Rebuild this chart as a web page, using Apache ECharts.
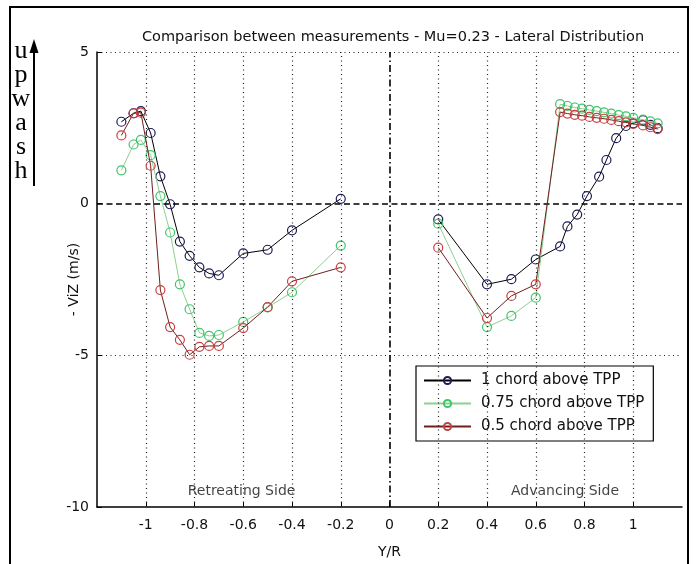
<!DOCTYPE html>
<html><head><meta charset="utf-8">
<script src="https://cdn.jsdelivr.net/npm/echarts@6/dist/echarts.min.js"></script>
<style>html,body{margin:0;padding:0;background:#fff}#c{width:696px;height:564px}</style>
</head><body><div id="c"></div>
<script>
// ---- data ----
const xTicks = [-1,-0.8,-0.6,-0.4,-0.2,0,0.2,0.4,0.6,0.8,1];
const yTicks = [-10,-5,0,5];
const seriesNames = ['1 chord above TPP','0.75 chord above TPP','0.5 chord above TPP'];

const retreatX = [-1.1,-1.05,-1.02,-0.98,-0.94,-0.9,-0.86,-0.82,-0.78,-0.74,-0.7,-0.6,-0.5,-0.4,-0.2];
const chord1Ret   = [2.7,2.98,3.05,2.33,0.9,-0.02,-1.25,-1.72,-2.1,-2.3,-2.36,-1.64,-1.52,-0.88,0.16];
const chord075Ret = [1.1,1.95,2.1,1.6,0.25,-0.95,-2.66,-3.48,-4.26,-4.36,-4.33,-3.9,-3.42,-2.92,-1.38];
const chord05Ret  = [2.25,2.98,3.0,1.25,-2.85,-4.07,-4.49,-4.98,-4.72,-4.69,-4.69,-4.1,-3.41,-2.56,-2.1];

const advX1 = [0.2,0.4,0.5,0.6,0.7,0.73,0.77,0.81,0.86,0.89,0.93,0.97,1.0,1.04,1.07,1.1];
const chord1Adv = [-0.52,-2.66,-2.49,-1.84,-1.41,-0.75,-0.36,0.25,0.89,1.44,2.16,2.56,2.65,2.75,2.6,2.49];

const advX2 = [0.2,0.4,0.5,0.6,0.7,0.73,0.76,0.79,0.82,0.85,0.88,0.91,0.94,0.97,1.0,1.04,1.07,1.1];
const chord075Adv = [-0.66,-4.07,-3.7,-3.1,3.28,3.22,3.17,3.13,3.09,3.05,3.01,2.97,2.92,2.88,2.83,2.77,2.71,2.65];
const chord05Adv  = [-1.45,-3.77,-3.04,-2.66,3.02,2.97,2.93,2.9,2.86,2.83,2.8,2.76,2.72,2.68,2.63,2.58,2.52,2.46];

const annotX = [-0.607, 0.72];
const annotY = [-9.5, -9.5];
const annotText = ['Retreating Side','Advancing Side'];

// ---- styles ----
const FONT = 'DejaVu Sans';
const lineColors = ['#000000','#8ed08e','#6e1f1f'];
const markerColors = ['#1c1c5a','#3fc46a','#c94040'];

const zip = (xs, ys) => xs.map((x,i)=>[x, ys[i]]);
function mkSeries(idx, xs, ys){
  return {
    name: seriesNames[idx], type:'line', data: zip(xs, ys),
    symbol:'circle', symbolSize:9, showSymbol:true,
    lineStyle:{color:lineColors[idx], width:1},
    itemStyle:{color:'rgba(255,255,255,0)', borderColor:markerColors[idx], borderWidth:1.2},
    emphasis:{disabled:true}, animation:false, z:3+idx
  };
}

const vGrid = xTicks.filter(v=>v!==0).map(v=>({xAxis:v, lineStyle:{type:[1,3.5], color:'#222', width:1.2}}));
const hGrid = [5,-5].map(v=>({yAxis:v, lineStyle:{type:[1,3.5], color:'#222', width:1.2}}));
const zeroLines = [
  {xAxis:0, lineStyle:{type:[7,3,1.5,3], color:'#000', width:1.6}},
  {yAxis:0, lineStyle:{type:[6,3.5], color:'#000', width:1.6}}
];

const chart = echarts.init(document.getElementById('c'), null, {renderer:'canvas'});
const option = {
  animation:false,
  backgroundColor:'#fff',
  textStyle:{fontFamily:FONT},
  title:{text:'Comparison between measurements - Mu=0.23 - Lateral Distribution',
    left:388, top:25, textAlign:'center',
    textStyle:{fontFamily:FONT, fontSize:14.5, fontWeight:'normal', color:'#111'}},
  grid:{left:97, right:14, top:52, bottom:55, containLabel:false},
  xAxis:{type:'value', min:-1.2, max:1.2, name:'Y/R', nameLocation:'middle', nameGap:38,
    nameMoveOverlap:false,
    nameTextStyle:{fontFamily:FONT, fontSize:14, color:'#111'},
    axisLine:{show:true, onZero:false, lineStyle:{color:'#000', width:1.5}},
    axisTick:{show:true, inside:true, length:5, customValues:xTicks, lineStyle:{color:'#000'}},
    axisLabel:{show:true, customValues:xTicks, margin:11, fontFamily:FONT, fontSize:14, color:'#111',
      formatter:v=>String(Math.round(v*10)/10)},
    splitLine:{show:false}},
  yAxis:{type:'value', min:-10, max:5, interval:5, name:'- ViZ (m/s)', nameLocation:'middle', nameGap:16,
    nameMoveOverlap:false,
    nameTextStyle:{fontFamily:FONT, fontSize:14, color:'#111'},
    axisLine:{show:true, onZero:false, lineStyle:{color:'#000', width:1.5}},
    axisTick:{show:true, inside:true, length:5, lineStyle:{color:'#000'}},
    axisLabel:{show:true, margin:8, fontFamily:FONT, fontSize:14, color:'#111'},
    splitLine:{show:false}},
  legend:{
    data:seriesNames, orient:'vertical', left:416, top:366,
    backgroundColor:'#fff', borderColor:'#000', borderWidth:1.2, padding:[7,9,7,7],
    itemWidth:47, itemHeight:9, itemGap:8,
    textStyle:{fontFamily:FONT, fontSize:15, color:'#111', padding:[0,0,0,5]},
    selectedMode:false
  },
  series:[
    {type:'line', data:[], silent:true, markLine:{silent:true, symbol:'none', label:{show:false},
      data:[...vGrid, ...hGrid, ...zeroLines], animation:false}, z:1},
    mkSeries(0, retreatX, chord1Ret), mkSeries(0, advX1, chord1Adv),
    mkSeries(1, retreatX, chord075Ret), mkSeries(1, advX2, chord075Adv),
    mkSeries(2, retreatX, chord05Ret), mkSeries(2, advX2, chord05Adv),
    {type:'scatter', data: zip(annotX, annotY), symbolSize:0, silent:true,
      label:{show:true, position:'inside', formatter:p=>annotText[p.dataIndex],
        fontFamily:FONT, fontSize:14, color:'#111'}, z:2}
  ],
  graphic:[
    {type:'rect', shape:{x:10, y:7, width:678, height:570}, style:{fill:'none', stroke:'#000', lineWidth:2}, silent:true},
    ...['u','p','w','a','s','h'].map((ch,i)=>({type:'text', x:21, y:51+i*24,
      style:{text:ch, font:'26px "Liberation Serif"', fill:'#000', align:'center', verticalAlign:'middle'}})),
    {type:'line', shape:{x1:34, y1:186, x2:34, y2:52}, style:{stroke:'#000', lineWidth:2}},
    {type:'polygon', shape:{points:[[34,39],[29.5,53],[38.5,53]]}, style:{fill:'#000'}}
  ]
};
chart.setOption(option);
</script>
</body></html>
